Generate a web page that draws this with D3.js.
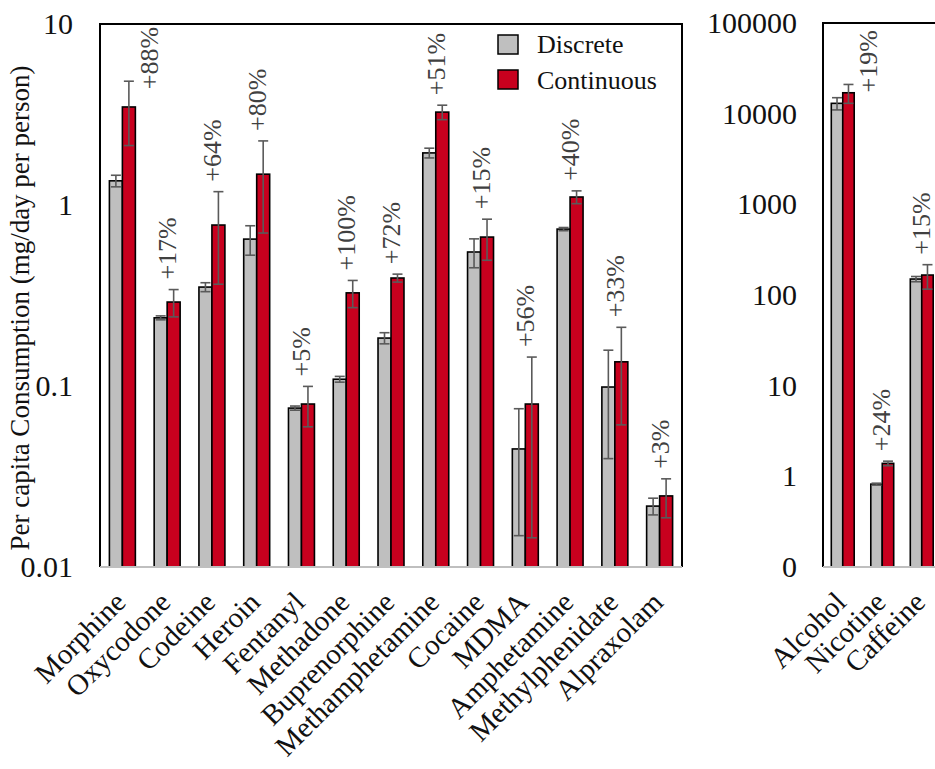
<!DOCTYPE html>
<html>
<head>
<meta charset="utf-8">
<script src="https://cdn.jsdelivr.net/npm/d3@7"></script>
<style>
  html, body { margin: 0; padding: 0; background: #fff; }
  svg { display: block; }
  text { font-family: "Liberation Serif", "Times New Roman", serif; }
</style>
</head>
<body>
<svg id="chart" width="935" height="769"></svg>
<script>
// Illicit and prescription drugs (left panel)
const drugCategories = ["Morphine", "Oxycodone", "Codeine", "Heroin", "Fentanyl", "Methadone",
  "Buprenorphine", "Methamphetamine", "Cocaine", "MDMA", "Amphetamine", "Methylphenidate", "Alpraxolam"];
const drugDiscrete = [1.36, 0.238, 0.352, 0.648, 0.0755, 0.109, 0.184, 1.94, 0.55, 0.0449, 0.736, 0.0987, 0.0217];
const drugDiscreteErr = [0.1, 0.006, 0.02, 0.12, 0.002, 0.004, 0.013, 0.12, 0.1, 0.03, 0.015, 0.059, 0.0023];
const drugContinuous = [3.48, 0.291, 0.775, 1.48, 0.0795, 0.327, 0.395, 3.26, 0.665, 0.0795, 1.107, 0.136, 0.0247];
const drugContinuousErr = [1.35, 0.05, 0.41, 0.78, 0.02, 0.056, 0.02, 0.3, 0.17, 0.065, 0.09, 0.075, 0.006];
const drugChange = ["+88%", "+17%", "+64%", "+80%", "+5%", "+100%", "+72%", "+51%", "+15%", "+56%", "+40%", "+33%", "+3%"];
const drugTickValues = [0.01, 0.1, 1, 10];
const drugTickLabels = ["0.01", "0.1", "1", "10"];

// Licit stimulants (right panel)
const licitCategories = ["Alcohol", "Nicotine", "Caffeine"];
const licitDiscrete = [13000, 0.82, 150];
const licitDiscreteErr = [2000, 0.02, 10];
const licitContinuous = [17000, 1.39, 166];
const licitContinuousErr = [4000, 0.08, 50];
const licitChange = ["+19%", "+24%", "+15%"];
const licitTickValues = [0.1, 1, 10, 100, 1000, 10000, 100000];
const licitTickLabels = ["0", "1", "10", "100", "1000", "10000", "100000"];

const seriesNames = ["Discrete", "Continuous"];
const seriesColors = ["#bfbfbf", "#c8001e"];

const svg = d3.select("#chart");

function drawPanel(cfg) {
  const { left, right, top, bottom, categories, discrete, discreteErr, continuous, continuousErr,
          change, tickValues, tickLabels, domain, tickLabelX } = cfg;
  const g = svg.append("g");

  const x = d3.scaleBand().domain(categories).range([left, right])
    .paddingInner(0.42).paddingOuter(0.21);
  const xs = d3.scaleBand().domain([0, 1]).range([0, x.bandwidth()]);
  const y = d3.scaleLog().domain(domain).range([bottom, top]);

  const rows = categories.map((c, i) => ({
    cat: c,
    vals: [
      { s: 0, v: discrete[i], e: discreteErr[i] },
      { s: 1, v: continuous[i], e: continuousErr[i] }
    ],
    label: change[i],
    contTop: continuous[i] + continuousErr[i]
  }));

  // bars
  const grp = g.selectAll("g.grp").data(rows).join("g")
    .attr("transform", d => `translate(${x(d.cat)},0)`);
  grp.selectAll("rect").data(d => d.vals).join("rect")
    .attr("x", d => xs(d.s))
    .attr("width", xs.bandwidth())
    .attr("y", d => y(d.v))
    .attr("height", d => bottom - y(d.v))
    .attr("fill", d => seriesColors[d.s])
    .attr("stroke", "#000")
    .attr("stroke-width", 1.6);

  // error bars
  const eb = grp.selectAll("g.err").data(d => d.vals).join("g")
    .attr("stroke", "#5a5a5a").attr("stroke-width", 1.6).attr("fill", "none");
  const cx = d => xs(d.s) + xs.bandwidth() / 2;
  const lo = d => Math.min(bottom, y(Math.max(d.v - d.e, domain[0])));
  eb.append("line").attr("x1", cx).attr("x2", cx)
    .attr("y1", d => y(d.v + d.e)).attr("y2", lo);
  eb.append("line").attr("x1", d => cx(d) - 5).attr("x2", d => cx(d) + 5)
    .attr("y1", d => y(d.v + d.e)).attr("y2", d => y(d.v + d.e));
  eb.append("line").attr("x1", d => cx(d) - 5).attr("x2", d => cx(d) + 5)
    .attr("y1", lo).attr("y2", lo);

  // percentage change labels, vertical, above the continuous error bar
  grp.append("text")
    .text(d => d.label)
    .attr("font-size", 26)
    .attr("fill", "#404040")
    .attr("dominant-baseline", "central")
    .each(function (d) {
      const len = this.getComputedTextLength();
      const redLeft = xs(1), redW = xs.bandwidth();
      const errTop = y(d.contTop);
      let tx, ty;
      if (errTop - 10 - len < top + 2) {
        // not enough room under the frame: set it beside the bar
        tx = redLeft + redW + 14;
        ty = errTop + 8;
      } else {
        tx = redLeft + redW / 2 - 6;
        ty = errTop - 10;
      }
      d3.select(this).attr("transform", `translate(${tx},${ty}) rotate(-90)`);
    });

  // frame
  g.append("path")
    .attr("d", `M${left},${bottom}V${top}H${right}V${bottom}`)
    .attr("fill", "none").attr("stroke", "#000").attr("stroke-width", 2);
  g.append("line")
    .attr("x1", left).attr("x2", right).attr("y1", bottom).attr("y2", bottom)
    .attr("stroke", "#bfbfbf").attr("stroke-width", 2);

  // y axis labels
  const yAxis = d3.axisLeft(y).tickValues(tickValues)
    .tickFormat((d, i) => tickLabels[i]).tickSize(0).tickPadding(left - tickLabelX);
  const ya = g.append("g").attr("transform", `translate(${left},0)`).call(yAxis);
  ya.select(".domain").remove();
  ya.selectAll("text").attr("font-size", 30).attr("fill", "#111")
    .attr("font-family", "Liberation Serif, serif");

  // category labels
  const xAxis = d3.axisBottom(x).tickSize(0).tickPadding(0);
  const xa = g.append("g").attr("transform", `translate(0,${bottom})`).call(xAxis);
  xa.select(".domain").remove();
  xa.selectAll("text")
    .attr("font-size", 29).attr("fill", "#111")
    .attr("font-family", "Liberation Serif, serif")
    .attr("text-anchor", "end")
    .attr("dy", null).attr("y", null)
    .attr("transform", "translate(5,37) rotate(-45)");
  return { x, y };
}

drawPanel({
  left: 100, right: 682, top: 24, bottom: 567,
  categories: drugCategories, discrete: drugDiscrete, discreteErr: drugDiscreteErr,
  continuous: drugContinuous, continuousErr: drugContinuousErr, change: drugChange,
  tickValues: drugTickValues, tickLabels: drugTickLabels, domain: [0.01, 10], tickLabelX: 73
});

drawPanel({
  left: 823, right: 941.5, top: 23, bottom: 567,
  categories: licitCategories, discrete: licitDiscrete, discreteErr: licitDiscreteErr,
  continuous: licitContinuous, continuousErr: licitContinuousErr, change: licitChange,
  tickValues: licitTickValues, tickLabels: licitTickLabels, domain: [0.1, 100000], tickLabelX: 797
});

// y axis title
svg.append("text")
  .attr("transform", "translate(20,308) rotate(-90)")
  .attr("text-anchor", "middle")
  .attr("dominant-baseline", "central")
  .attr("font-size", 27)
  .attr("fill", "#111")
  .text("Per capita Consumption (mg/day per person)");

// legend
const legend = svg.append("g");
seriesNames.forEach((name, i) => {
  legend.append("rect")
    .attr("x", 498).attr("y", 35 + i * 35).attr("width", 20).attr("height", 19)
    .attr("fill", seriesColors[i]).attr("stroke", "#000").attr("stroke-width", 1.5);
  legend.append("text")
    .attr("x", 537).attr("y", 53 + i * 36)
    .attr("font-size", 26).attr("fill", "#111")
    .text(name);
});
</script>
</body>
</html>
